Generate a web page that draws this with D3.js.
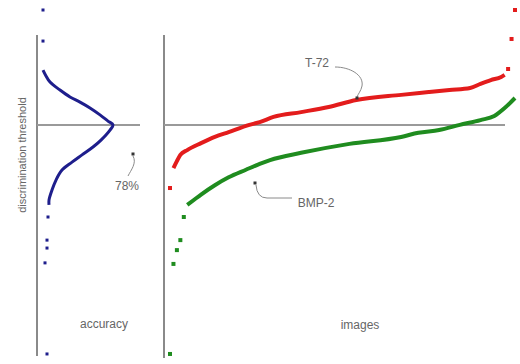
<!DOCTYPE html>
<html>
<head>
<meta charset="utf-8">
<script src="https://cdn.jsdelivr.net/npm/d3@7"></script>
<style>
  body { margin: 0; background: #fff; }
  svg { display: block; }
  text { font-family: "Liberation Sans", Arial, sans-serif; fill: #666; font-size: 12px; }
</style>
</head>
<body>
<div id="chart"></div>
<script>
/*** DATA ***/
// accuracy vs discrimination threshold (left panel)
var accCurveThr = [0.826, 0.809, 0.791, 0.768, 0.748, 0.733, 0.716, 0.696, 0.678, 0.667, 0.652, 0.623, 0.603, 0.580, 0.559, 0.536, 0.507, 0.478, 0.449, 0.435];
var accCurveVal = [0.500, 0.512, 0.528, 0.568, 0.608, 0.648, 0.688, 0.728, 0.760, 0.780, 0.768, 0.732, 0.700, 0.656, 0.616, 0.576, 0.552, 0.536, 0.524, 0.524];
var accDotThr = [1.000, 0.910, 0.400, 0.333, 0.310, 0.267, 0.003];
var accDotVal = [0.500, 0.500, 0.520, 0.516, 0.516, 0.508, 0.516];

// sorted per-image thresholds (right panel)
var t72Index = [1, 2, 3, 5, 9, 13, 17, 23, 26, 30, 38, 46, 54, 67, 75, 81, 87, 90, 93, 96, 97];
var t72Thr   = [0.542, 0.562, 0.580, 0.594, 0.614, 0.632, 0.646, 0.667, 0.675, 0.690, 0.704, 0.719, 0.739, 0.754, 0.762, 0.768, 0.774, 0.786, 0.797, 0.806, 0.812];
var t72OutIndex = [0, 98, 99, 100];
var t72OutThr   = [0.484, 0.829, 0.916, 1.000];

var bmpIndex = [5, 7, 9, 13, 17, 22, 26, 29, 38, 52, 67, 72, 78, 84, 90, 94, 97, 100];
var bmpThr   = [0.435, 0.450, 0.465, 0.492, 0.515, 0.537, 0.554, 0.565, 0.586, 0.612, 0.632, 0.644, 0.652, 0.667, 0.681, 0.693, 0.716, 0.745];
var bmpOutIndex = [0, 1, 2, 3, 4];
var bmpOutThr   = [0.003, 0.264, 0.304, 0.333, 0.400];

var bestThreshold = 0.667;
var bestAccuracy = '78%';

/*** SETUP ***/
var width = 520, height = 364;
var colorT72 = '#e31c1c', colorBmp = '#1f8c1f', colorAcc = '#1e1e8c', colorGrid = '#9a9a9a';

var svg = d3.select('#chart').append('svg')
  .attr('width', width)
  .attr('height', height);

var y = d3.scaleLinear().domain([0, 1]).range([355, 10]);
var xAcc = d3.scaleLinear().domain([0.5, 0.78]).range([43, 113]);
var xImg = d3.scaleLinear().domain([0, 100]).range([170, 515]);

function zip(a, b) { return a.map(function(d, i) { return [d, b[i]]; }); }

/*** AXES ***/
svg.append('line')
  .attr('x1', 37).attr('x2', 37).attr('y1', 35).attr('y2', 356)
  .attr('stroke', '#8a8a8a').attr('stroke-width', 2);
svg.append('line')
  .attr('x1', 164).attr('x2', 164).attr('y1', 35).attr('y2', 358)
  .attr('stroke', '#8a8a8a').attr('stroke-width', 2);

//threshold lines
svg.append('line')
  .attr('x1', 37).attr('x2', 140).attr('y1', y(bestThreshold)).attr('y2', y(bestThreshold))
  .attr('stroke', colorGrid).attr('stroke-width', 2);
svg.append('line')
  .attr('x1', 164).attr('x2', 505).attr('y1', y(bestThreshold)).attr('y2', y(bestThreshold))
  .attr('stroke', colorGrid).attr('stroke-width', 2);

/*** LEFT PANEL ***/
var accLine = d3.line()
  .x(function(d) { return xAcc(d[1]); })
  .y(function(d) { return y(d[0]); })
  .curve(d3.curveCatmullRom);

svg.append('path')
  .datum(zip(accCurveThr, accCurveVal))
  .attr('d', accLine)
  .attr('fill', 'none')
  .attr('stroke', colorAcc)
  .attr('stroke-width', 3);

svg.selectAll('.acc-dot')
  .data(zip(accDotThr, accDotVal))
  .enter().append('rect')
  .attr('class', 'acc-dot')
  .attr('x', function(d) { return xAcc(d[1]) - 1.5; })
  .attr('y', function(d) { return y(d[0]) - 1.5; })
  .attr('width', 3).attr('height', 3)
  .attr('fill', colorAcc);

/*** RIGHT PANEL ***/
var imgLine = d3.line()
  .x(function(d) { return xImg(d[0]); })
  .y(function(d) { return y(d[1]); })
  .curve(d3.curveMonotoneX);

function drawSeries(idx, thr, outIdx, outThr, color) {
  svg.append('path')
    .datum(zip(idx, thr))
    .attr('d', imgLine)
    .attr('fill', 'none')
    .attr('stroke', color)
    .attr('stroke-width', 4);

  svg.append('g').selectAll('rect')
    .data(zip(outIdx, outThr))
    .enter().append('rect')
    .attr('x', function(d) { return xImg(d[0]) - 2; })
    .attr('y', function(d) { return y(d[1]) - 2; })
    .attr('width', 4).attr('height', 4)
    .attr('fill', color);
}
drawSeries(t72Index, t72Thr, t72OutIndex, t72OutThr, colorT72);
drawSeries(bmpIndex, bmpThr, bmpOutIndex, bmpOutThr, colorBmp);

/*** ANNOTATIONS ***/
function annotate(path, dot, label, lx, ly) {
  svg.append('path')
    .attr('d', path)
    .attr('fill', 'none')
    .attr('stroke', '#8a8a8a')
    .attr('stroke-width', 1);
  svg.append('rect')
    .attr('x', dot[0] - 1.5).attr('y', dot[1] - 1.5)
    .attr('width', 3).attr('height', 3)
    .attr('fill', '#333');
  svg.append('text')
    .attr('x', lx).attr('y', ly)
    .attr('text-anchor', 'middle')
    .attr('dy', '0.35em')
    .text(label);
}
annotate('M133,156 C137,163 131,170 128,176', [133, 154], bestAccuracy, 127, 186);
annotate('M335,67 C350,67 364,75 362,86 C361,91 358,94 357,97', [357, 98], 'T-72', 317, 63);
annotate('M256,185 Q257,198 267,198 L292,198', [255, 183], 'BMP-2', 316, 203);

//axis labels
svg.append('text')
  .attr('transform', 'translate(22,155) rotate(-90)')
  .attr('text-anchor', 'middle')
  .attr('dy', '0.35em')
  .style('font-size', '11px')
  .text('discrimination threshold');

svg.append('text')
  .attr('x', 104).attr('y', 324)
  .attr('text-anchor', 'middle')
  .attr('dy', '0.35em')
  .text('accuracy');

svg.append('text')
  .attr('x', 360).attr('y', 325)
  .attr('text-anchor', 'middle')
  .attr('dy', '0.35em')
  .text('images');
</script>
</body>
</html>
